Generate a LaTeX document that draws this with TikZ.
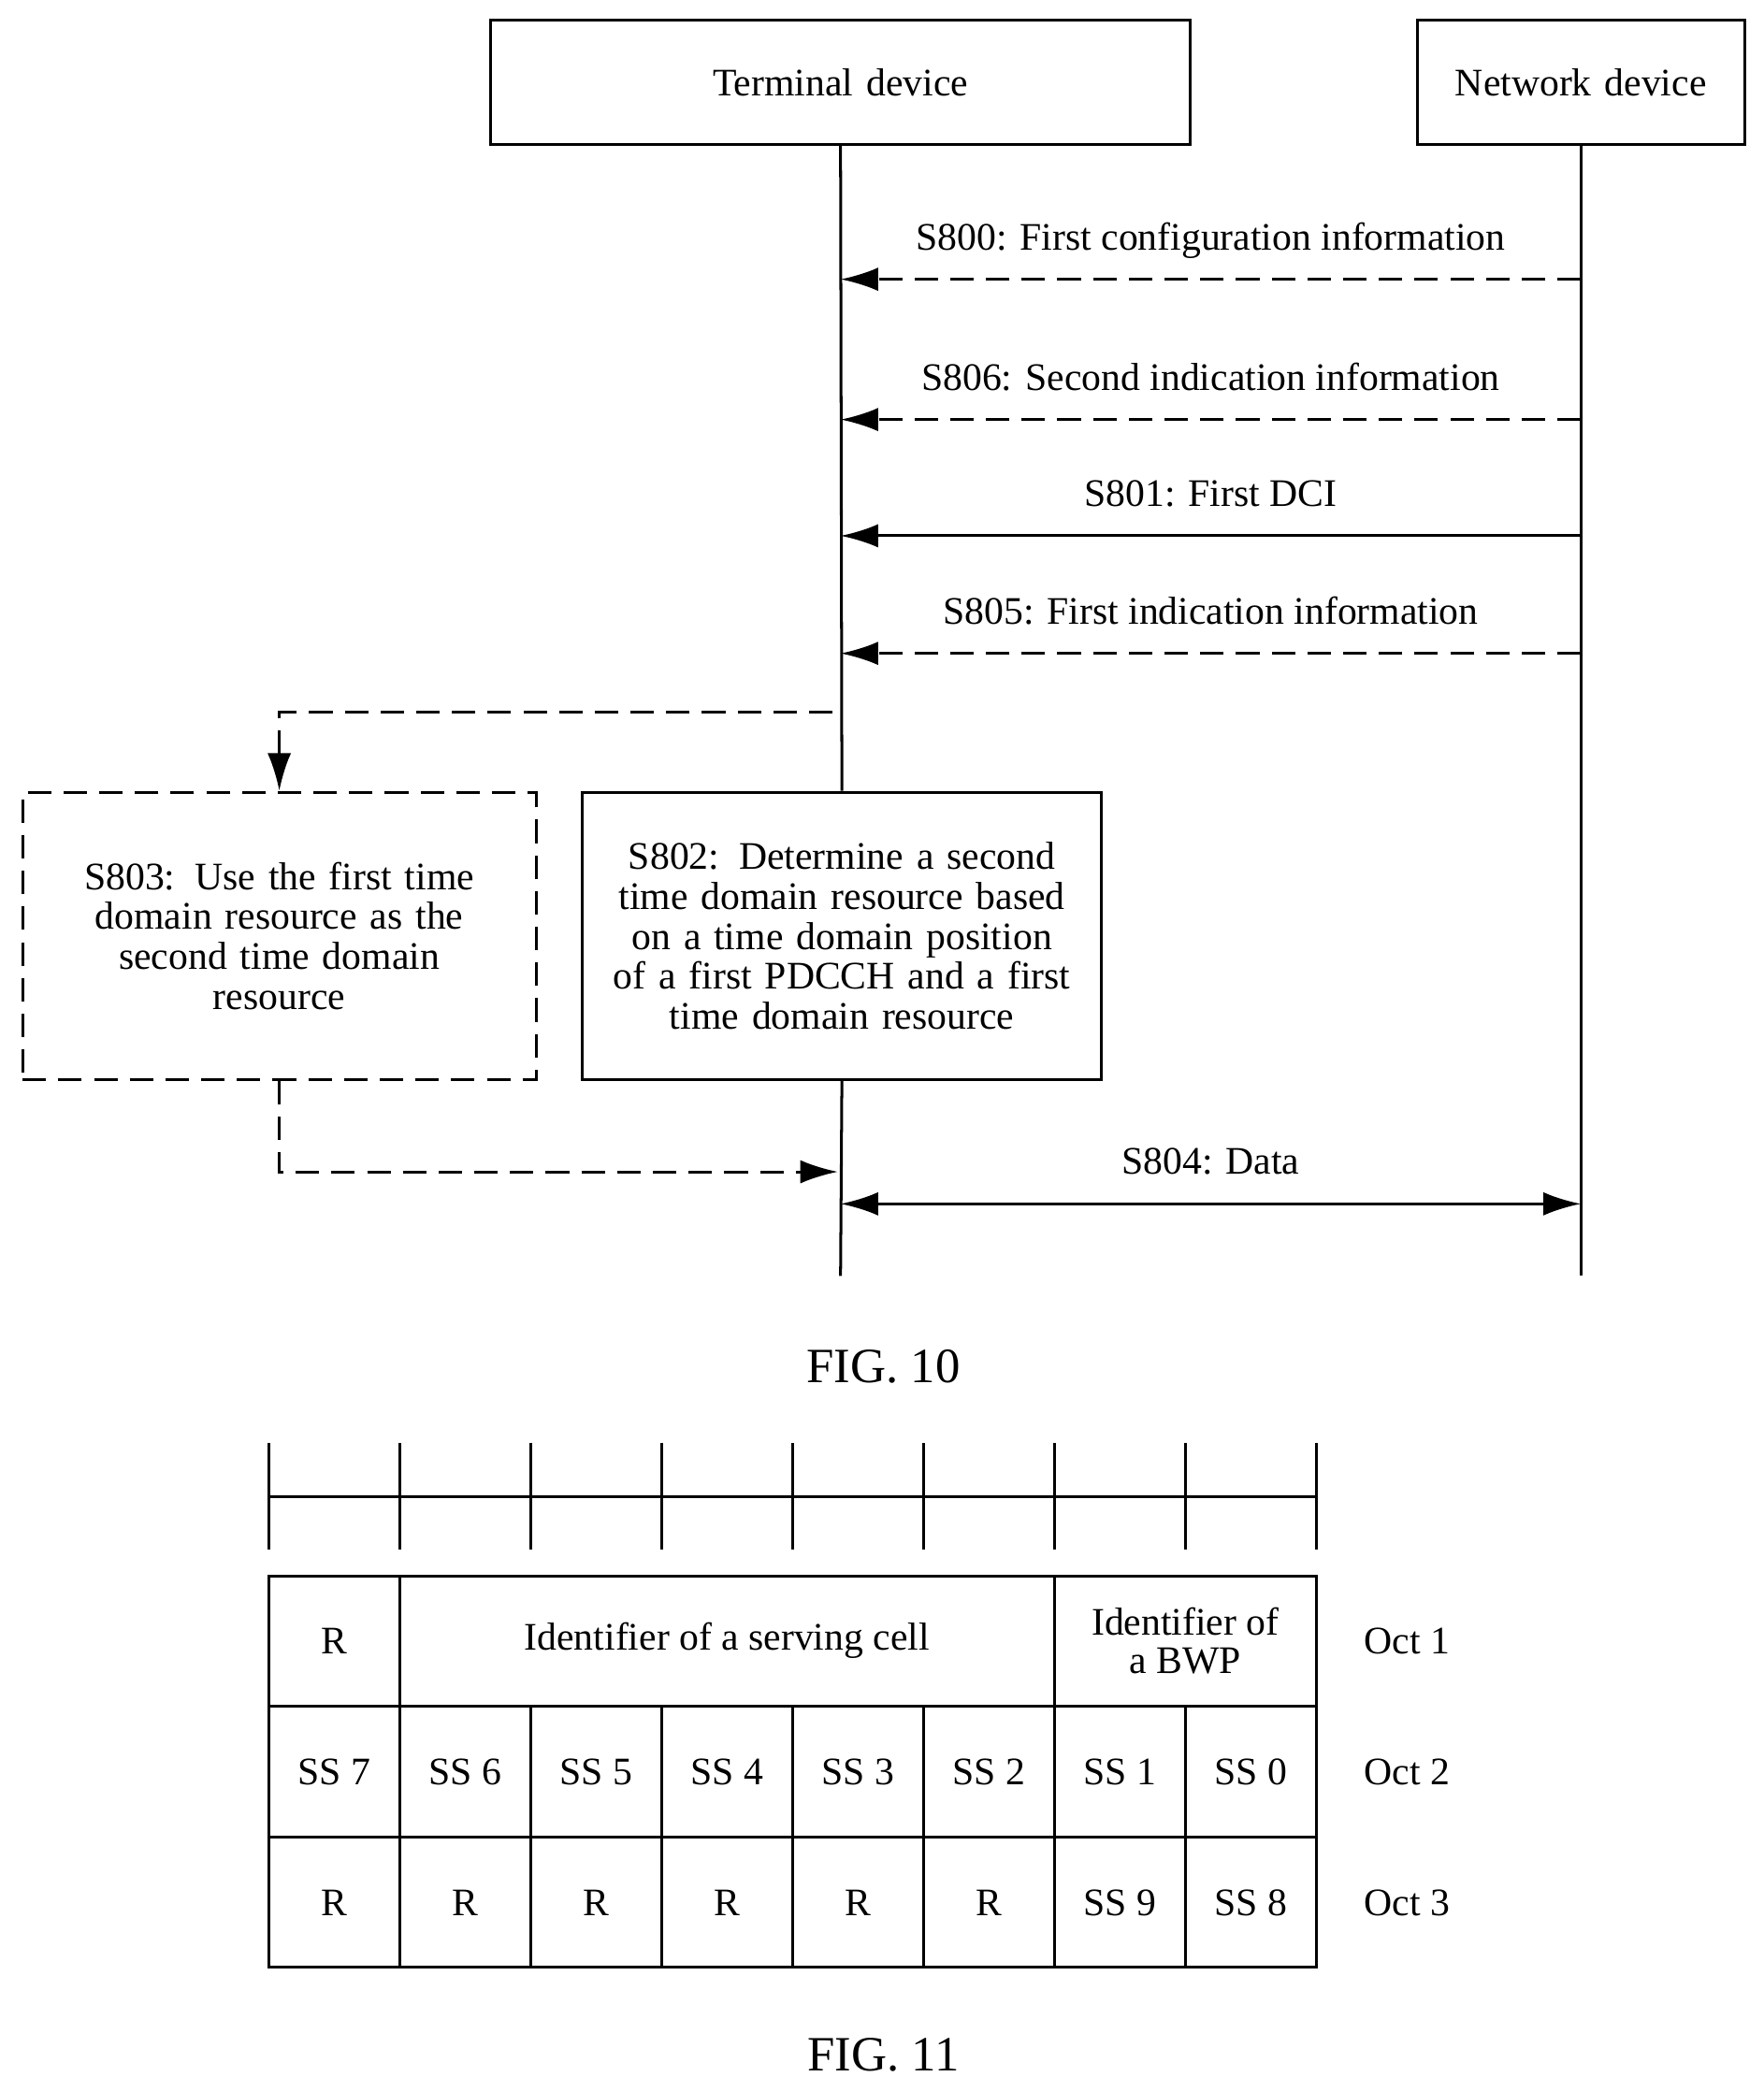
\documentclass[tikz,border=0pt]{standalone}
\usepackage{fontspec}
\setmainfont{Liberation Serif}
\usetikzlibrary{arrows.meta}
\begin{document}
\begin{tikzpicture}[x=0.01cm,y=-0.01cm,
  every node/.style={font=\fontsize{8.3}{10}\selectfont},
  ln/.style={line width=0.6pt},
  dsh/.style={ln,dash pattern=on 5pt off 2.6pt},
  tip/.style={-{Latex[length=8pt,width=5pt]}},
  box/.style={draw,ln,inner sep=0pt,align=center},
  lbl/.style={inner sep=0pt,anchor=base}]
\useasboundingbox (0,0) rectangle (1320,1565);
\node[box,minimum width=248\pgflinewidth, text width=2.45cm, minimum height=0.93cm] (T) at (629,61.5) {Terminal device};
\node[box,text width=2.45cm, minimum height=0.93cm] (N) at (1183,61.5) {Network device};
\coordinate (Tend) at (629,955);
\coordinate (Nend) at (1183,955);
\node[box,text width=3.88cm,minimum height=2.15cm,fill=white] (S802) at (630,700.5) {S802: Determine a second\\[-1.5pt] time domain resource based\\[-1.5pt] on a time domain position\\[-1.5pt] of a first PDCCH and a first\\[-1.5pt] time domain resource};
\node[box,dsh,text width=3.84cm,minimum height=2.15cm] (S803) at (209,700.5) {S803: Use the first time\\[-1.5pt] domain resource as the\\[-1.5pt] second time domain\\[-1.5pt] resource};
\draw[ln] (T.south) -- (S802.north);
\draw[ln] (S802.south) -- (Tend);
\draw[ln] (N.south) -- (Nend);
\foreach \y/\t/\s in {209/{S800: First configuration information}/dsh,314/{S806: Second indication information}/dsh,401/{S801: First DCI}/ln,489/{S805: First indication information}/dsh}{
  \coordinate (a) at (1183,\y); \coordinate (b) at (629,\y);
  \draw[\s,tip] (a) -- (b);
  \node[lbl] at (906,\y-22) {\t};
}
\coordinate (e1) at (623,533);
\draw[dsh,tip] (e1) -| (S803.north);
\coordinate (e2) at (627,877);
\draw[dsh,tip] (S803.south) |- (e2);
\coordinate (d1) at (629,901); \coordinate (d2) at (1183,901);
\draw[ln,{Latex[length=8pt,width=5pt]}-{Latex[length=8pt,width=5pt]}] (d1) -- (d2);
\node[lbl] at (906,879) {S804: Data};
\node[font=\fontsize{10.5}{12}\selectfont] (f10) at (661,1023) {FIG. 10};
% FIG 11
\foreach \i in {0,...,8}{\draw[ln] (201+98*\i,1080) -- (201+98*\i,1160);}
\draw[ln] (201,1120) -- (985,1120);
\draw[ln] (201,1180) rectangle (985,1472);
\draw[ln] (201,1277) -- (985,1277);
\draw[ln] (201,1375) -- (985,1375);
\foreach \x in {299,789}{\draw[ln] (\x,1180) -- (\x,1277);}
\foreach \i in {1,...,7}{\draw[ln] (201+98*\i,1277) -- (201+98*\i,1472);}
\node (r1) at (250,1228) {R};
\node (sc) at (544,1228) {Identifier of a serving cell};
\node[align=center] (bwp) at (887,1228) {Identifier of\\[-2pt] a BWP};
\foreach \i/\t in {0/SS 7,1/SS 6,2/SS 5,3/SS 4,4/SS 3,5/SS 2,6/SS 1,7/SS 0}{\node at (250+98*\i,1326) {\t};}
\foreach \i/\t in {0/R,1/R,2/R,3/R,4/R,5/R,6/SS 9,7/SS 8}{\node at (250+98*\i,1424) {\t};}
\node (o1) at (1053,1228) {Oct 1};
\node (o2) at (1053,1326) {Oct 2};
\node (o3) at (1053,1424) {Oct 3};
\node[font=\fontsize{10.5}{12}\selectfont] (f11) at (661,1538) {FIG. 11};
\end{tikzpicture}
\end{document}
